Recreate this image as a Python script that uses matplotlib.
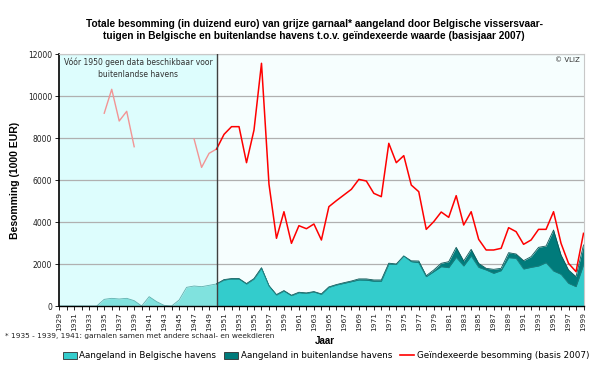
import numpy as np
import matplotlib
matplotlib.use("Agg")
import matplotlib.pyplot as plt
from matplotlib.patches import Patch
from matplotlib.lines import Line2D

years = list(range(1929, 2000))

# Belgian ports landings value (1000 EUR)
belgian = [0, 0, 0, 0, 0, 0, 317, 365, 333, 365, 254, 0, 444, 206, 30, 0, 285, 889, 952, 920, 984,
           1050, 1238, 1286, 1286, 1048, 1286, 1794, 952, 524, 714, 492, 635, 603, 667, 556,
           889, 1000, 1079, 1159, 1240, 1230, 1180, 1180, 2000, 1980, 2381, 2111, 2063, 1397,
           1635, 1873, 1825, 2317, 1905, 2381, 1841, 1714, 1556, 1683, 2302, 2270, 1762, 1841,
           1905, 2063, 1667, 1508, 1079, 921, 1952]

# Foreign ports landings value (1000 EUR), only from 1950
foreign = [np.nan] * 21 + [0, 20, 20, 20, 20, 20, 30, 20, 20, 20, 20, 20, 20, 20, 20,
                           20, 20, 30, 30, 50, 60, 60, 60, 40, 20, 0, 40, 80, 47,
                           80, 160, 286, 476, 238, 317, 190, 80, 190, 111, 238, 206, 397, 508,
                           889, 794, 1952, 921, 635, 476, 953]

# Indexed value (basis 2007)
indexed = [np.nan] * 6 + [9180, 10320, 8810, 9270, 7585] + [np.nan] * 7 + [7950, 6600, 7270,
           7475, 8175, 8540, 8540, 6825, 8380, 11557, 5800, 3224, 4490, 2984, 3825, 3680, 3905,
           3143, 4730, 5016, 5286, 5556, 6030, 5952, 5365, 5206, 7746, 6825, 7160, 5760, 5444,
           3650, 4016, 4476, 4222, 5254, 3857, 4490, 3175, 2667, 2667, 2746, 3730, 3540, 2937,
           3143, 3650, 3650, 4490, 2984, 2032, 1635, 3460]

x = np.array(years, dtype=float)
b = np.array(belgian, dtype=float)
f = np.array(foreign, dtype=float)
r = np.array(indexed, dtype=float)

fig = plt.figure(figsize=(6.0, 3.68), dpi=100)
ax = fig.add_axes([59.3 / 600, 1 - 306 / 368, (583.5 - 59.3) / 600, (306 - 54) / 368])

ax.set_xlim(1929, 1999)
ax.set_ylim(0, 12000)
ax.set_facecolor('#F6FEFE')
ax.axvspan(1929, 1950, color='#DDFDFD', zorder=0, lw=0)
ax.axvline(1950, color='#404040', lw=1.0, zorder=5)

for yv in range(2000, 12001, 2000):
    ax.axhline(yv, color='#B0B0B0', lw=0.9, zorder=1)

pre = x <= 1950
post = x >= 1950
ax.fill_between(x[pre], 0, b[pre], color='#80E2DE', lw=0, zorder=2)
ax.plot(x[pre], b[pre], color='#5CB0AE', lw=0.6, zorder=2.1)

total = b + np.nan_to_num(f)
ax.fill_between(x[post], 0, total[post], color='#007B7B', lw=0, zorder=2)
ax.plot(x[post], total[post], color='#0B5656', lw=0.6, zorder=2.1)
ax.fill_between(x[post], 0, b[post], color='#33CCCC', lw=0, zorder=2.2)
ax.plot(x[post], b[post], color='#1E7C7C', lw=0.6, zorder=2.3)

ax.plot(x[pre], r[pre], color='#F29494', lw=1.0, zorder=3)
ax.plot(x[post], r[post], color='#FF0000', lw=1.1, zorder=3)

for s in ['top', 'right']:
    ax.spines[s].set_color('#C8C8C8')
    ax.spines[s].set_linewidth(0.8)
ax.spines['left'].set_color('black')
ax.spines['left'].set_linewidth(1.2)
ax.spines['bottom'].set_color('black')
ax.spines['bottom'].set_linewidth(1.0)

ax.set_yticks(range(0, 12001, 2000))
ax.tick_params(axis='y', labelsize=5.5, length=3, width=0.6, pad=2, labelcolor='#202020')
ax.set_xticks(years)
ax.set_xticklabels([str(y) if (y - 1929) % 2 == 0 else '' for y in years], rotation=90,
                   fontsize=5.3, color='#202020')
ax.tick_params(axis='x', length=3, width=0.6, pad=1.5)

ax.text(1939.5, 11830, 'Vóór 1950 geen data beschikbaar voor\nbuitenlandse havens', ha='center',
        va='top', fontsize=5.5, color='#303030', linespacing=1.4, zorder=6)
ax.text(1998.5, 11850, '© VLIZ', ha='right', va='top', fontsize=5.0, color='#303030', zorder=6)

ax.set_ylabel('Besomming (1000 EUR)', fontsize=7.5, fontweight='bold', labelpad=6,
              family='Liberation Sans')

fig.text(314 / 600, 1 - 30 / 368,
         'Totale besomming (in duizend euro) van grijze garnaal* aangeland door Belgische vissersvaar-\n'
         'tuigen in Belgische en buitenlandse havens t.o.v. geïndexeerde waarde (basisjaar 2007)',
         ha='center', va='center', fontsize=7.3, fontweight='bold', linespacing=1.3,
         family=['Liberation Sans Narrow', 'Liberation Sans'])

fig.text(325 / 600, 1 - 341 / 368, 'Jaar', ha='center', va='center', fontsize=7.0,
         fontweight='bold', family='Liberation Sans')
fig.text(5 / 600, 1 - 336 / 368,
         '* 1935 - 1939, 1941: garnalen samen met andere schaal- en weekdieren',
         ha='left', va='center', fontsize=5.3, color='#202020')

handles = [Patch(facecolor='#33CCCC', edgecolor='#303030', lw=0.6),
           Patch(facecolor='#007B7B', edgecolor='#303030', lw=0.6),
           Line2D([0], [0], color='#FF0000', lw=1.2)]
labels = ['Aangeland in Belgische havens', 'Aangeland in buitenlandse havens',
          'Geïndexeerde besomming (basis 2007)']
fig.legend(handles, labels, loc='center', bbox_to_anchor=(326 / 600, 1 - 356 / 368), ncol=3,
           frameon=False, fontsize=6.3, handlelength=1.6, handleheight=0.8, handletextpad=0.3,
           columnspacing=0.9, borderpad=0)

fig.savefig('out.png', dpi=100)
